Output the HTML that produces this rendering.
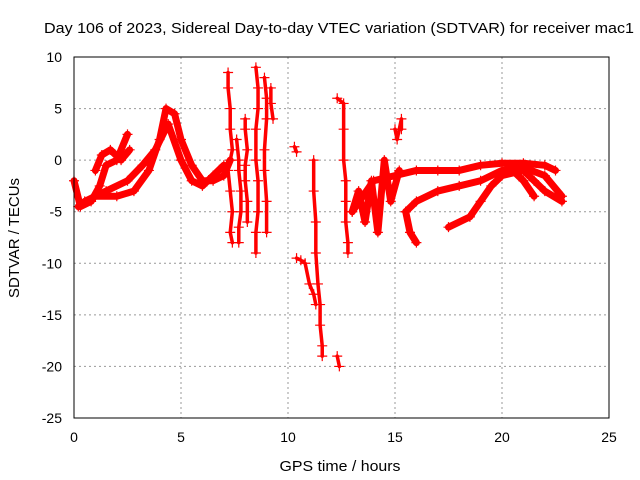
<!DOCTYPE html>
<html><head><meta charset="utf-8"><style>
body{margin:0;background:#fff}
svg{display:block;font-family:"Liberation Sans",sans-serif}
</style></head><body>
<svg id="chart" width="640" height="480">
<text x="339" y="33" font-size="15" text-anchor="middle" textLength="590" lengthAdjust="spacingAndGlyphs">Day 106 of 2023, Sidereal Day-to-day VTEC variation (SDTVAR) for receiver mac1</text>
<text x="340" y="471" font-size="15" text-anchor="middle" textLength="121" lengthAdjust="spacingAndGlyphs">GPS time / hours</text>
<text transform="translate(19,238) rotate(-90)" font-size="15" text-anchor="middle" textLength="120" lengthAdjust="spacingAndGlyphs">SDTVAR / TECUs</text>
<g id="grid"></g><g id="marks"></g>
<rect x="74" y="57" width="535" height="361" fill="none" stroke="#000"/>
</svg>
<script>
const xTicks=[0,5,10,15,20,25];
const yTicks=[10,5,0,-5,-10,-15,-20,-25];
const trackA=[[0,-2],[0.3,-4.5],[0.8,-4],[1.2,-2.5],[1.5,-0.5],[2,0],[2.5,2.5]];
const trackB=[[0.2,-4.5],[1,-3.5],[2,-3.5],[2.8,-3],[3.5,-1],[4,2],[4.3,5],[4.7,4.5],[5,2],[5.5,-0.5],[6,-2],[6.5,-2],[7,-1.5],[7.3,0]];
const trackC=[[0.5,-4],[1.5,-3],[2.5,-2],[3.2,-0.5],[3.8,1],[4.4,3.5],[5,0],[5.5,-2],[6,-2.5],[6.5,-1.5],[7,-0.5]];
const trackD=[[1,-1],[1.3,0.5],[1.7,1],[2.2,0],[2.6,1]];
const trackE=[[13,-5],[14,-2],[15,-1.5],[16,-1],[17,-1],[18,-1],[19,-0.5],[20,-0.3],[21,-0.3],[22,-0.5],[22.5,-1]];
const trackF=[[15.5,-5],[16,-4],[17,-3],[18,-2.5],[19,-2],[20,-1],[21,-0.7],[22,-1.5],[22.8,-3.5]];
const trackG=[[17.5,-6.5],[18.5,-5.5],[19,-4],[19.5,-2.5],[20,-1.5],[21,-1],[21.5,-2],[22,-3],[22.8,-4]];
const trackH=[[20.5,-1],[21,-2],[21.5,-3.5]];
const col1=[[7.2,8.5],[7.2,7],[7.3,5],[7.3,3],[7.4,1],[7.2,-1],[7.3,-3],[7.4,-5],[7.3,-7],[7.4,-8]];
const col2=[[7.6,2],[7.7,0],[7.7,-1],[7.8,-3],[7.8,-5],[7.7,-6.5],[7.7,-8]];
const col3=[[8.0,4],[8.0,3],[8.1,1],[8.0,-0.5],[8.0,-2],[8.1,-4],[8.1,-6]];
const col4=[[8.5,9],[8.6,7],[8.6,5],[8.5,3],[8.5,0],[8.6,-2],[8.6,-5],[8.5,-7],[8.5,-9]];
const col5=[[8.9,8],[9.0,6],[9.0,4],[8.9,1],[8.9,-1],[9.0,-4],[9.0,-7]];
const col6=[[9.2,7],[9.2,5.5],[9.3,4]];
const col7=[[10.3,1.3],[10.4,0.8]];
const col8=[[10.4,-9.5],[10.6,-9.7],[10.8,-10],[11,-12],[11.2,-13],[11.3,-14]];
const col9=[[11.2,0],[11.2,-3],[11.3,-6],[11.3,-9],[11.4,-12],[11.5,-14],[11.5,-16],[11.6,-18],[11.6,-19]];
const col10=[[12.3,-19],[12.4,-20]];
const col11=[[12.3,6],[12.6,5.5],[12.6,3],[12.6,0],[12.7,-2],[12.7,-4],[12.7,-6],[12.8,-8],[12.8,-9]];
const clus=[[13,-5],[13.3,-3],[13.6,-6],[13.9,-2],[14.2,-7],[14.5,0],[14.8,-4],[15.2,-1]];
const col12=[[15,3],[15.1,2],[15.3,4],[15.3,3]];
const col13=[[15.5,-5],[15.7,-7],[16,-8]];
const tracks=[trackA,trackB,trackC,trackD,trackE,trackF,trackG,trackH,clus,col13];
const columns=[col1,col2,col3,col4,col5,col6,col7,col8,col9,col10,col11,col12];
const X=v=>74+v*535/25, Y=v=>57+(10-v)*361/35;
const NS="http://www.w3.org/2000/svg";
const grid=document.getElementById('grid'), marks=document.getElementById('marks');
function mk(t,a,p){const e=document.createElementNS(NS,t);for(const k in a)e.setAttribute(k,a[k]);p.appendChild(e);return e;}
xTicks.forEach(t=>{
 if(t>0&&t<25){const g=mk('line',{x1:X(t),x2:X(t),y1:57,y2:418,stroke:'#999','stroke-dasharray':'2,3'},grid);
 
 }
 const tx=mk('text',{x:X(t),y:442,'font-size':14,'text-anchor':'middle'},grid);tx.textContent=t;
 
 
});
yTicks.forEach(t=>{
 if(t<10&&t>-25){const g=mk('line',{x1:74,x2:609,y1:Y(t),y2:Y(t),stroke:'#999','stroke-dasharray':'2,3'},grid);
 
 }
 const tx=mk('text',{x:62,y:Y(t)+5,'font-size':14,'text-anchor':'end'},grid);tx.textContent=t;
 
 
});
function drawSeries(s,w){
 const pl=mk('polyline',{points:s.map(p=>X(p[0])+','+Y(p[1])).join(' '),fill:'none',stroke:'#f00','stroke-width':w,'stroke-linejoin':'round','stroke-linecap':'round'},marks);
 
 
 s.forEach(p=>{const m=mk('path',{d:`M${X(p[0])-5},${Y(p[1])}h10M${X(p[0])},${Y(p[1])-5}v10`,stroke:'#f00','stroke-width':1.2},marks);
 
 });
}
tracks.forEach(s=>drawSeries(s,7));
columns.forEach(s=>drawSeries(s,3.5));
</script>
</body></html>
